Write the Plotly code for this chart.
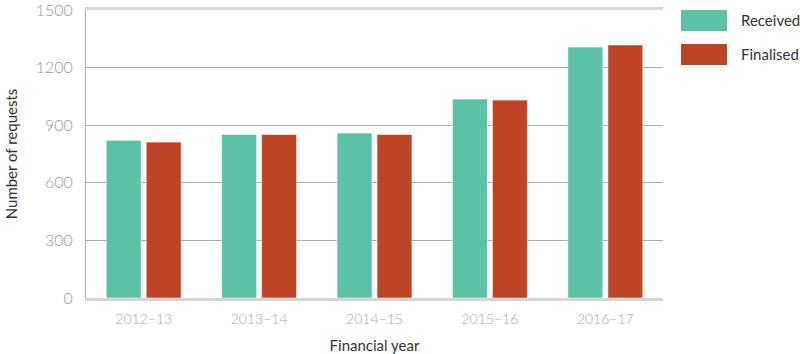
import plotly.graph_objects as go

years = ["2012–13", "2013–14", "2014–15", "2015–16", "2016–17"]
received = [821, 852, 859, 1036, 1307]
finalised = [812, 852, 852, 1031, 1318]
series_names = ["Received", "Finalised"]
colors = ["#5BC2A7", "#BD4526"]
y_ticks = [0, 300, 600, 900, 1200, 1500]

fig = go.Figure()
for name, vals, col in zip(series_names, [received, finalised], colors):
    fig.add_trace(go.Bar(x=years, y=vals, name=name, marker_color=col,
                         marker_line_color="rgba(255,255,255,0.6)", marker_line_width=1,
                         showlegend=False))

# manual legend (large swatches)
for i, (name, col) in enumerate(zip(series_names, colors)):
    y0 = 1 - i * 34 / 288
    fig.add_shape(type="rect", xref="paper", yref="paper",
                  x0=(681 - 86) / 577, x1=(727 - 86) / 577,
                  y0=y0 - 21 / 288, y1=y0,
                  fillcolor=col, line_width=0)
    fig.add_annotation(text=name, xref="paper", yref="paper",
                       x=(739 - 86) / 577, y=y0 - 10 / 288, xanchor="left", yanchor="middle",
                       showarrow=False, font=dict(family="Lato", size=15, color="#333333"))

fig.update_layout(
    width=800, height=354,
    margin=dict(l=86, r=137, t=10, b=56),
    paper_bgcolor="white", plot_bgcolor="white",
    barmode="group", bargap=0.307, bargroupgap=0.125,
    font=dict(family="Lato", color="#333333"),
    xaxis=dict(
        title=dict(text="Financial year", font=dict(family="Lato", size=15, color="#333333"), standoff=15),
        tickfont=dict(family="Lato", size=14, color="#aaaaaa", weight=300),
        showline=True, linecolor="#d6d6d6", linewidth=3, mirror=True,
        showgrid=False, ticks="", ticklabelstandoff=6, automargin=False,
    ),
    yaxis=dict(
        title=dict(text="Number of requests", font=dict(family="Lato", size=15, color="#333333"), standoff=14),
        tickfont=dict(family="Lato", size=16, color="#999999", weight=300),
        range=[0, 1500], tickvals=y_ticks, ticktext=[str(v) for v in y_ticks],
        showgrid=True, gridcolor="#aaaaaa", gridwidth=1,
        zeroline=False, showline=True, linecolor="#aaaaaa", linewidth=1,
        ticks="", ticklabelstandoff=9, automargin=False, ticklabeloverflow="allow",
    ),
)

fig.write_html("out.html")
